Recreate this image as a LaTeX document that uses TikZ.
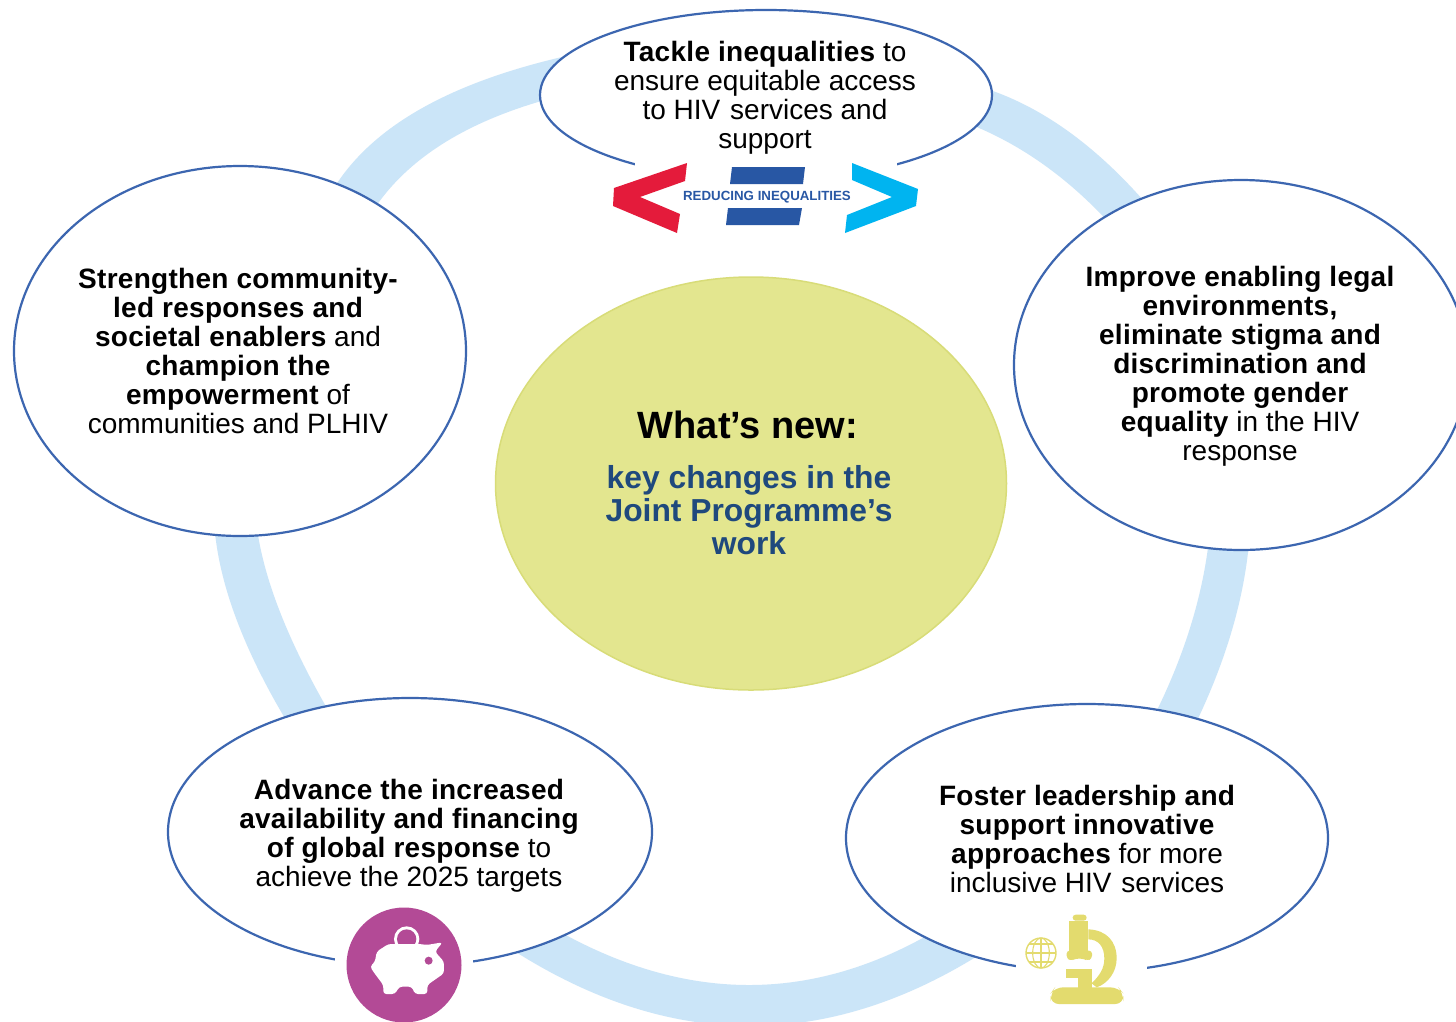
\documentclass[tikz,border=0pt]{standalone}
\usepackage{fontspec}
\setmainfont{Liberation Sans}
\definecolor{ringblue}{HTML}{CBE5F8}
\definecolor{edgeblue}{HTML}{3C66B0}
\definecolor{centerfill}{HTML}{E3E68F}
\definecolor{centeredge}{HTML}{D8DC78}
\definecolor{navytext}{HTML}{1F497D}
\definecolor{logored}{HTML}{E41B3B}
\definecolor{logoblue}{HTML}{00B4F0}
\definecolor{logobar}{HTML}{2857A4}
\definecolor{pigpurple}{HTML}{B34A96}
\definecolor{scopeyellow}{HTML}{E3DB6E}
\newfontfamily\spacedbold[LetterSpace=1.0]{Liberation Sans Bold}
\newcommand{\bb}[1]{{\spacedbold #1}}
\tikzset{
  goal/.style={draw=edgeblue,line width=2.2pt,fill=white},
  goaltext/.style={align=center,inner sep=0pt,font=\fontsize{28}{29}\selectfont,text=black},
  mask/.style={fill=white,draw=none},
  band/.style={fill=ringblue,draw=none}
}
\begin{document}
\begin{tikzpicture}[x=1pt,y=-1pt]
\path[use as bounding box] (0,0) rectangle (1456,1021);
\clip (0,0) rectangle (1456,1021);
\fill[white] (0,0) rectangle (1456,1021);
% ring segments
\fill[band] (326,202) .. controls (364,127.7) and (453.3,76.7) .. (600,49) -- (600,87) .. controls (480,110) and (404,155) .. (366,222) -- cycle;
\fill[band] (970,84) .. controls (1035,100.7) and (1096.7,144) .. (1155,214) -- (1120,235) .. controls (1070,177) and (1013.3,137.7) .. (950,117) -- cycle;
\fill[band] (1250,530) .. controls (1246,595) and (1226,663.3) .. (1190,735) -- (1148,728) .. controls (1183.3,660.7) and (1204,594.7) .. (1210,530) -- cycle;
\fill[band] (505,945) .. controls (667.3,1052) and (829,1053) .. (990,948) -- (945,925) .. controls (816,1005) and (683.7,1005) .. (548,925) -- cycle;
\fill[band] (214,520) .. controls (217.3,580.7) and (243.3,650.7) .. (292,730) -- (335,722) .. controls (288,642.7) and (261.7,575.3) .. (256,520) -- cycle;
% ellipses
\draw[goal] (766,95) ellipse [x radius=226,y radius=85];
\draw[goal] (240,351) ellipse [x radius=226,y radius=185];
\draw[goal] (1241,365) ellipse [x radius=227,y radius=185];
\draw[goal] (410,832) ellipse [x radius=242,y radius=134];
\draw[goal] (1087,838) ellipse [x radius=241,y radius=134];
\draw[centeredge,line width=1.5pt,fill=centerfill] (751,483.5) ellipse [x radius=255.5,y radius=206.5];
% masks behind icons
\fill[mask] (635,163) rectangle (897,240);
\fill[mask] (335,905) rectangle (473,1021);
\fill[mask] (1016,905) rectangle (1147,1021);
% texts
\node[goaltext] (t1) at (765,97.5) {\bb{Tackle inequalities} to\\ensure equitable access\\to HIV\kern2pt{} services and\\support};
\node[goaltext] (t2) at (238,351) {\bb{Strengthen community-}\\\bb{led responses and}\\\bb{societal enablers} and\\\bb{champion the}\\\bb{empowerment} of\\communities and PLHIV};
\node[goaltext] (t3) at (1240,366.5) {\bb{Improve enabling legal}\\\bb{environments,}\\\bb{eliminate stigma and}\\\bb{discrimination and}\\\bb{promote gender}\\\bb{equality} in the HIV\\response};
\node[goaltext] (t4) at (409,835.5) {\bb{Advance the increased}\\\bb{availability and financing}\\\bb{of global response} to\\achieve the 2025 targets};
\node[goaltext] (t5) at (1087,838.5) {\bb{Foster leadership and}\\\bb{support innovative}\\\bb{approaches} for more\\inclusive HIV\kern2pt{} services};
\node[inner sep=0pt,font=\bfseries\fontsize{38}{40}\selectfont] (c1) at (748,425) {What’s new:};
\node[inner sep=0pt,align=center,text=navytext,font=\bfseries\fontsize{31.8}{33}\selectfont] (c2) at (749,510) {key changes in the\\Joint Programme’s\\work};
% logo
\fill[logored] (687,163)--(614,188)--(613,206)--(677,233)--(680,214)--(640,197)--(685,181)--cycle;
\fill[logoblue] (852,163)--(918,189)--(916,206)--(845,233)--(847,215)--(892,197)--(852,180)--cycle;
\fill[logobar] (732,167)--(805,167)--(803,184)--(730,184)--cycle;
\fill[logobar] (728,208)--(802,208)--(799,225)--(726,225)--cycle;
\node[inner sep=0pt,text=logobar,font=\bfseries\fontsize{13.3}{14}\selectfont] (logo) at (767,197) {REDUCING INEQUALITIES};
% piggy
\fill[pigpurple] (404,965) circle (57.5);
\begin{scope}[shift={(320,890)},x=0.3333pt,y=-0.3333pt]
\fill[white] (260,147) circle (38);
\fill[pigpurple] (260,147) circle (29);
\fill[white,rounded corners=3pt] (190,312)--(190,285)--(165,252)--(150,230)--(165,215)--(170,185)--(205,162)--(300,162)--(320,165)--(368,157)--(345,185)--(372,215)--(372,250)--(322,285)--(322,312)--(285,312)--(275,290)--(238,290)--(225,312)--cycle;
\fill[pigpurple] (326,212) circle (12);
\end{scope}
% microscope
\begin{scope}[shift={(1000,900)},x=0.3333pt,y=-0.3333pt]
\draw[scopeyellow,line width=1.4pt] (123,159) circle (45);
\draw[scopeyellow,line width=1.1pt] (123,114)--(123,204) (78,159)--(168,159) (87,132)--(159,132) (87,186)--(159,186);
\draw[scopeyellow,line width=1.1pt] (123,159) ellipse [x radius=25,y radius=45];
\fill[scopeyellow,rounded corners=3pt] (218,44)--(260,44)--(260,62)--(218,62)--cycle;
\fill[scopeyellow] (208,62) rectangle (265,152);
\fill[scopeyellow,rounded corners=3pt] (200,152)--(276,152)--(276,176)--(262,182)--(250,176)--(226,176)--(214,182)--(200,176)--cycle;
\fill[scopeyellow] (197,208) rectangle (275,235);
\fill[scopeyellow] (235,235) rectangle (275,265);
\fill[scopeyellow,rounded corners=8pt] (152,312)--(152,280)--(165,262)--(355,262)--(370,280)--(370,312)--cycle;
\fill[scopeyellow] (265,88) .. controls (320,90) and (350,125) .. (350,175) .. controls (350,215) and (325,250) .. (290,262) -- (275,250) .. controls (300,225) and (313,205) .. (313,175) .. controls (313,140) and (295,118) .. (265,118) -- cycle;
\end{scope}
\end{tikzpicture}
\end{document}
